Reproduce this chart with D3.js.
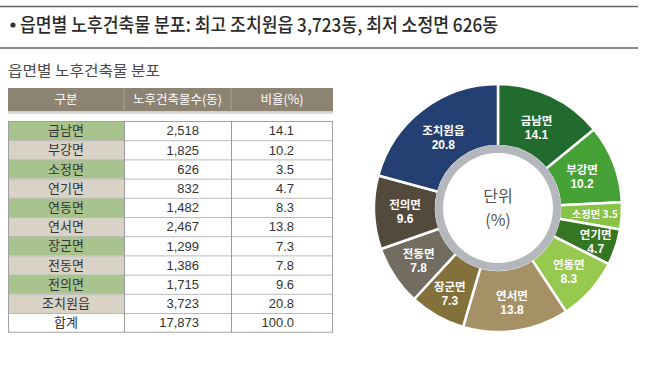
<!DOCTYPE html>
<html><head><meta charset="utf-8">
<script src="https://cdn.jsdelivr.net/npm/d3@7"></script>
<style>
html,body{margin:0;padding:0;background:#fff;}
svg{display:block;}
text{font-family:"Noto Sans CJK KR","Noto Sans",sans-serif;}
.num{font-family:"Liberation Sans",Arial,sans-serif;}
</style></head>
<body>
<svg id="c" width="648" height="367"></svg>
<script>
// ---- data ----
const titleText = "읍면별 노후건축물 분포: 최고 조치원읍 3,723동, 최저 소정면 626동";
const subtitleText = "읍면별 노후건축물 분포";
const headers = ["구분", "노후건축물수(동)", "비율(%)"];
const regions = ["금남면","부강면","소정면","연기면","연동면","연서면","장군면","전동면","전의면","조치원읍"];
const counts = [2518, 1825, 626, 832, 1482, 2467, 1299, 1386, 1715, 3723];
const ratios = [14.1, 10.2, 3.5, 4.7, 8.3, 13.8, 7.3, 7.8, 9.6, 20.8];
const totalLabel = "합계";
const totalCount = 17873;
const totalRatio = 100.0;
const unitLines = ["단위", "(%)"];

// ---- styles ----
const sliceColors = ["#1b5a26","#3a8c2f","#78b338","#2b6419","#86b942","#988359","#76632f","#676054","#483f33","#1b325f"];
const sliceColorsLight = ["#226b2e","#45a036","#87c345","#347621","#96c94e","#a69167","#83703b","#736c60","#53493d","#243f72"];
const labelRadius = [90, 90, 97, 103, 95, 95, 98, 95, 93, 90];
const rowColors = ["#a9c38e","#d8d2c7"];

const svg = d3.select("#c");
const fmt = d3.format(",");
const fmt1 = d3.format(".1f");

// ---- title ----
svg.append("line").attr("x1",0).attr("x2",638).attr("y1",6.5).attr("y2",6.5).attr("stroke","#666").attr("stroke-width",1.6);
svg.append("line").attr("x1",0).attr("x2",638).attr("y1",48).attr("y2",48).attr("stroke","#666").attr("stroke-width",1.6);
svg.append("circle").attr("cx",13).attr("cy",25).attr("r",2.6).attr("fill","#333");
svg.append("text").attr("x",20).attr("y",31.5).attr("font-size",19).attr("font-weight",500).attr("fill","#2a2a2a")
  .attr("textLength",478).attr("lengthAdjust","spacingAndGlyphs").text(titleText);

// subtitle
svg.append("text").attr("x",8).attr("y",76).attr("font-size",15).attr("fill","#4a4a4a")
  .attr("textLength",152).attr("lengthAdjust","spacingAndGlyphs").text(subtitleText);

// ---- table ----
const colX = [8, 124, 231, 333];
const headerY = 88, headerH = 23.5;
const rowTop = 121, rowH = 19.2;
const rows = regions.map((r,i)=>({name:r, count:counts[i], ratio:ratios[i], bg:rowColors[i%2]}))
  .concat([{name:totalLabel, count:totalCount, ratio:totalRatio, bg:"#fff"}]);

const yRow = d3.scaleBand().domain(d3.range(rows.length)).range([rowTop, rowTop + rowH*rows.length]).padding(0);

const tbl = svg.append("g");
tbl.append("rect").attr("x",colX[0]).attr("y",headerY).attr("width",colX[3]-colX[0]).attr("height",headerH).attr("fill","#8c8373");
tbl.append("rect").attr("x",colX[0]).attr("y",headerY+headerH).attr("width",colX[3]-colX[0]).attr("height",2.5).attr("fill","#dcdad6");
[1,2].forEach(k=>tbl.append("line").attr("x1",colX[k]).attr("x2",colX[k]).attr("y1",headerY).attr("y2",headerY+headerH).attr("stroke","#aaa193").attr("stroke-width",1));
headers.forEach((h,k)=>{
  tbl.append("text").attr("x",(colX[k]+colX[k+1])/2).attr("y",headerY+headerH/2+4.5).attr("text-anchor","middle")
    .attr("font-size",12.5).attr("fill","#fff").text(h);
});

const rg = tbl.selectAll("g.row").data(rows).join("g").attr("class","row");
rg.append("rect").attr("x",colX[0]).attr("y",(d,i)=>yRow(i)).attr("width",colX[1]-colX[0]).attr("height",yRow.bandwidth()).attr("fill",d=>d.bg);
rg.append("rect").attr("x",colX[1]).attr("y",(d,i)=>yRow(i)).attr("width",colX[3]-colX[1]).attr("height",yRow.bandwidth()).attr("fill","#fff");
rg.append("line").attr("x1",colX[0]).attr("x2",colX[3]).attr("y1",(d,i)=>yRow(i)+0.5).attr("y2",(d,i)=>yRow(i)+0.5).attr("stroke","#b9b9b9");
rg.append("text").attr("x",(colX[0]+colX[1])/2).attr("y",(d,i)=>yRow(i)+rowH/2+4.6).attr("text-anchor","middle")
  .attr("font-size",13).attr("fill","#333").text(d=>d.name);
rg.append("text").attr("class","num").attr("x",199).attr("y",(d,i)=>yRow(i)+rowH/2+4.8).attr("text-anchor","end")
  .attr("font-size",13).attr("fill","#333").text(d=>fmt(d.count));
rg.append("text").attr("class","num").attr("x",294).attr("y",(d,i)=>yRow(i)+rowH/2+4.8).attr("text-anchor","end")
  .attr("font-size",13).attr("fill","#333").text(d=>fmt1(d.ratio));
const tBottom = rowTop + rowH*rows.length;
[1,2].forEach(k=>tbl.append("line").attr("x1",colX[k]+0.5).attr("x2",colX[k]+0.5).attr("y1",rowTop).attr("y2",tBottom).attr("stroke","#9a9a9a"));
tbl.append("rect").attr("x",colX[0]+0.5).attr("y",rowTop+0.5).attr("width",colX[3]-colX[0]-1).attr("height",tBottom-rowTop-0.5)
  .attr("fill","none").attr("stroke","#a0a0a0");

// ---- donut ----
const cx = 498, cy = 208, R = 124, r0 = 62;
const defs = svg.append("defs");
sliceColors.forEach((c,i)=>{
  const g = defs.append("radialGradient").attr("id","g"+i).attr("gradientUnits","userSpaceOnUse")
    .attr("cx",cx).attr("cy",cy).attr("r",R);
  g.append("stop").attr("offset","0.5").attr("stop-color",c);
  g.append("stop").attr("offset","0.85").attr("stop-color",c);
  g.append("stop").attr("offset","1").attr("stop-color",sliceColorsLight[i]);
});
const ringG = defs.append("radialGradient").attr("id","ring").attr("gradientUnits","userSpaceOnUse").attr("cx",cx).attr("cy",cy).attr("r",r0);
ringG.append("stop").attr("offset","0.88").attr("stop-color","#9fa4aa");
ringG.append("stop").attr("offset","0.94").attr("stop-color","#d4d7da");
ringG.append("stop").attr("offset","1").attr("stop-color","#b4b8bc");

const pie = d3.pie().sort(null).value(d=>d)(ratios);
const arc = d3.arc().innerRadius(r0).outerRadius(R);
const dg = svg.append("g").attr("transform",`translate(${cx},${cy})`);
dg.selectAll("path").data(pie).join("path").attr("d",arc)
  .attr("fill",(d,i)=>`url(#g${i})`).attr("stroke","#fff").attr("stroke-width",2.5).attr("stroke-linejoin","round");

dg.append("circle").attr("r",r0+1).attr("fill","url(#ring)");
dg.append("circle").attr("r",r0-7).attr("fill","#fff");

const lab = dg.selectAll("g.lab").data(pie).join("g").attr("class","lab")
  .attr("transform",(d,i)=>{
    const c = d3.arc().innerRadius(labelRadius[i]).outerRadius(labelRadius[i]).centroid(d);
    return `translate(${c[0]},${c[1]})`;
  });
lab.each(function(d,i){
  const g = d3.select(this);
  if (regions[i] === "소정면") {
    g.append("text").attr("text-anchor","middle").attr("y",4).attr("font-size",10.5).attr("font-weight",700).attr("fill","#fff")
      .attr("textLength",46).attr("lengthAdjust","spacingAndGlyphs")
      .text(regions[i] + " " + fmt1(ratios[i]));
  } else {
    g.append("text").attr("text-anchor","middle").attr("y",-2).attr("font-size",11.5).attr("font-weight",700).attr("fill","#fff").text(regions[i]);
    g.append("text").attr("class","num").attr("text-anchor","middle").attr("y",12).attr("font-size",12).attr("font-weight",700).attr("fill","#fff").text(fmt1(ratios[i]));
  }
});

dg.append("text").attr("text-anchor","middle").attr("y",-6).attr("font-size",16).attr("fill","#555").text(unitLines[0]);
dg.append("text").attr("text-anchor","middle").attr("y",18).attr("font-size",16).attr("fill","#555").text(unitLines[1]);
</script>
</body></html>
